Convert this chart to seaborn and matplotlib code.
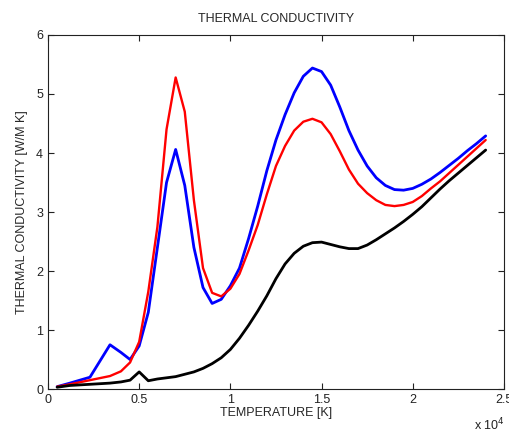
import matplotlib
matplotlib.use("Agg")
import matplotlib.pyplot as plt
import seaborn as sns
import pandas as pd
from matplotlib.ticker import FuncFormatter

temperature = [500, 1200, 2300, 3400, 4000, 4500, 5000, 5500, 6000, 6500, 7000,
               7500, 8000, 8500, 9000, 9500, 10000, 10500, 11000, 11500, 12000,
               12500, 13000, 13500, 14000, 14500, 15000, 15500, 16000, 16500,
               17000, 17500, 18000, 18500, 19000, 19500, 20000, 20500, 21000,
               21500, 22000, 22500, 23000, 23500, 24000]

k_blue = [0.04, 0.10, 0.20, 0.75, 0.62, 0.50, 0.73, 1.30, 2.40, 3.50, 4.06,
          3.45, 2.40, 1.72, 1.45, 1.52, 1.75, 2.05, 2.55, 3.10, 3.70,
          4.22, 4.65, 5.02, 5.30, 5.44, 5.38, 5.15, 4.78, 4.38,
          4.05, 3.78, 3.58, 3.45, 3.38, 3.37, 3.40, 3.47, 3.56,
          3.67, 3.79, 3.91, 4.04, 4.16, 4.29]

k_red = [0.04, 0.08, 0.15, 0.22, 0.30, 0.45, 0.80, 1.65, 2.75, 4.40, 5.28,
         4.70, 3.20, 2.05, 1.63, 1.57, 1.70, 1.95, 2.35, 2.78, 3.30,
         3.78, 4.12, 4.38, 4.53, 4.58, 4.52, 4.32, 4.03, 3.72,
         3.48, 3.32, 3.20, 3.12, 3.10, 3.12, 3.17, 3.27, 3.40,
         3.52, 3.66, 3.80, 3.94, 4.08, 4.22]

k_black = [0.03, 0.06, 0.08, 0.10, 0.12, 0.15, 0.29, 0.14, 0.17, 0.19, 0.21,
           0.25, 0.29, 0.35, 0.43, 0.53, 0.67, 0.86, 1.08, 1.32, 1.58,
           1.87, 2.12, 2.30, 2.42, 2.48, 2.49, 2.45, 2.41, 2.38,
           2.38, 2.44, 2.53, 2.63, 2.73, 2.84, 2.96, 3.09, 3.24,
           3.39, 3.53, 3.66, 3.79, 3.92, 4.05]

x_ticks = [0, 5000, 10000, 15000, 20000, 25000]
y_ticks = [0, 1, 2, 3, 4, 5, 6]

sns.set_style("ticks")
plt.rcParams['font.family'] = ['Liberation Sans', 'DejaVu Sans']
plt.rcParams['xtick.direction'] = 'in'
plt.rcParams['ytick.direction'] = 'in'
plt.rcParams['lines.solid_joinstyle'] = 'round'

fig = plt.figure(figsize=(5.09, 4.32), dpi=100)
ax = fig.add_axes([0.0943, 0.0995, 0.8957, 0.8195])

df = pd.DataFrame({"T": temperature, "blue": k_blue, "red": k_red, "black": k_black})
sns.lineplot(data=df, x="T", y="blue", color="#0000ff", linewidth=2.0, ax=ax, sort=False)
sns.lineplot(data=df, x="T", y="red", color="#ff0000", linewidth=1.7, ax=ax, sort=False)
sns.lineplot(data=df, x="T", y="black", color="#000000", linewidth=2.0, ax=ax, sort=False)

ax.set_xlim(0, 25000)
ax.set_ylim(0, 6)
ax.set_xticks(x_ticks)
ax.set_yticks(y_ticks)
ax.xaxis.set_major_formatter(FuncFormatter(lambda v, p: f"{v/1e4:g}"))
ax.tick_params(axis='both', which='both', top=True, right=True, length=4,
               labelsize=9, colors='#222222', width=0.8)
for s in ax.spines.values():
    s.set_visible(True)
    s.set_color('#222222')
    s.set_linewidth(0.8)

ax.set_title("THERMAL CONDUCTIVITY", fontsize=9, pad=9)
ax.set_xlabel("TEMPERATURE [K]", fontsize=9, labelpad=1)
ax.set_ylabel("THERMAL CONDUCTIVITY [W/M K]", fontsize=9, labelpad=6)
fig.text(0.932, 0.004, "x 10$^4$", fontsize=9, color='#222222')

fig.savefig("out.png", dpi=100)
